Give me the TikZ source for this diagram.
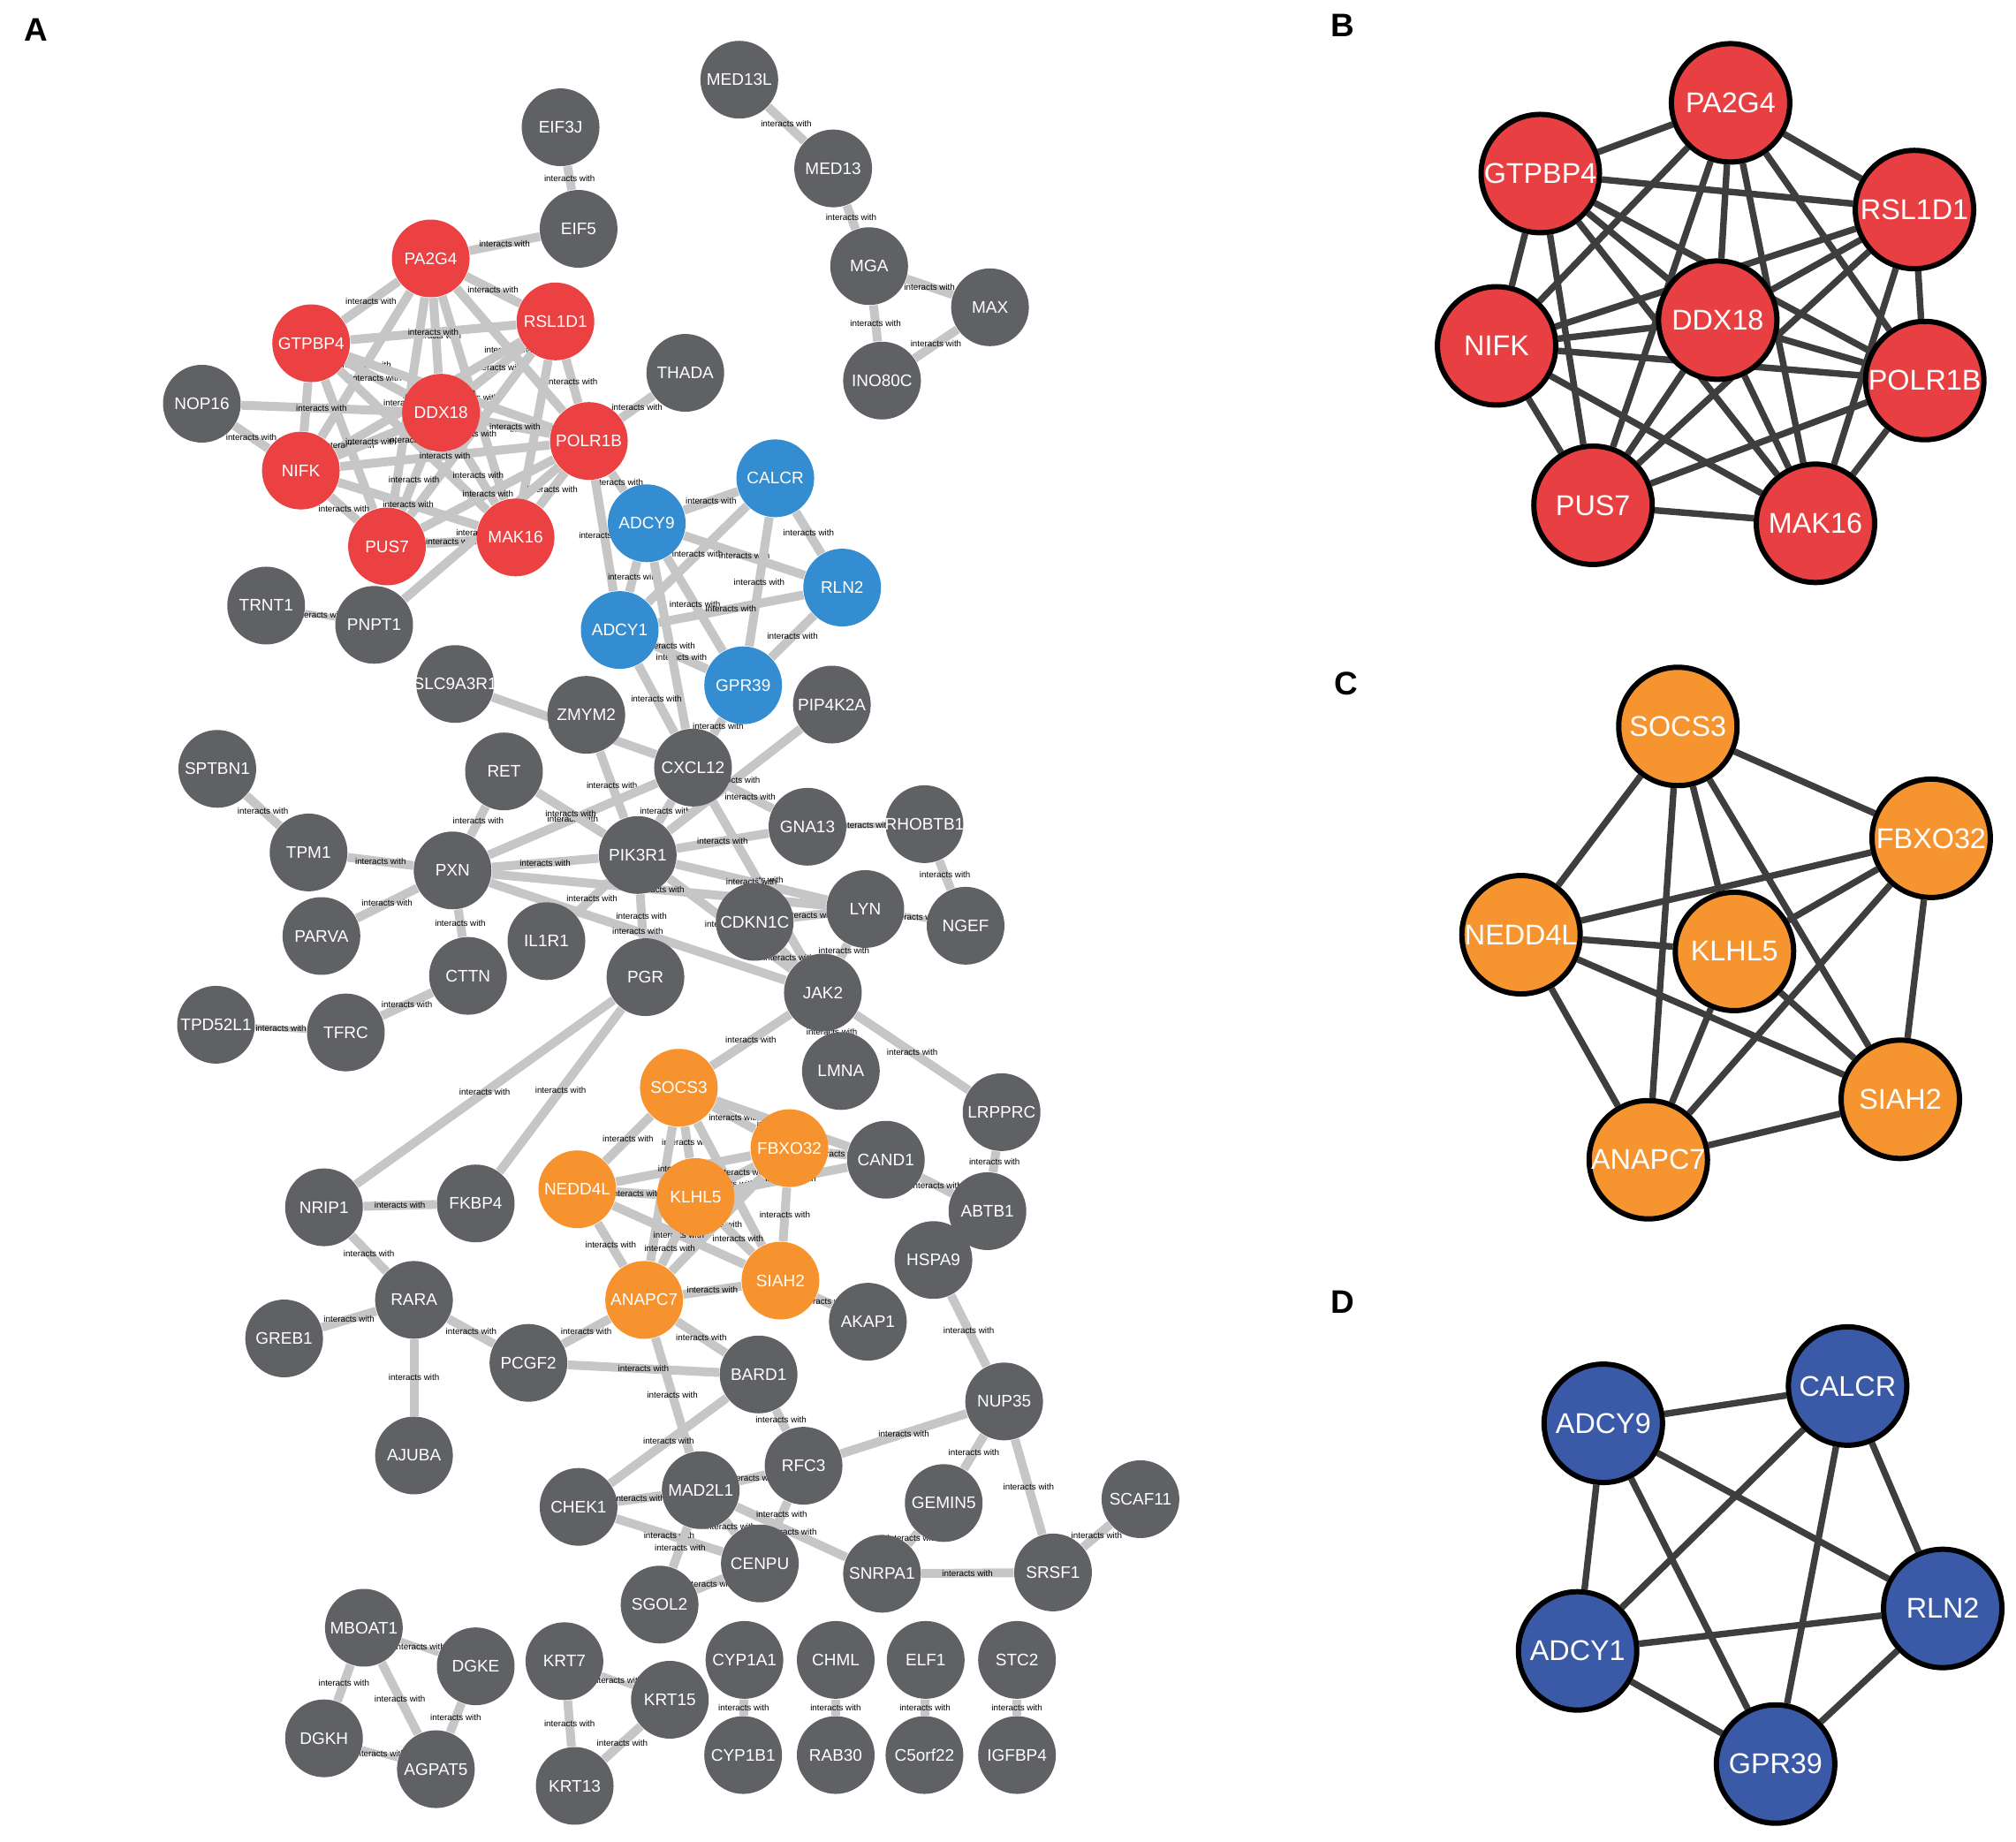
\documentclass[tikz,border=0pt]{standalone}
\usepackage{fontspec}
\setmainfont{Liberation Sans}
\definecolor{ngray}{RGB}{96,97,100}
\definecolor{nred}{RGB}{235,65,66}
\definecolor{nblue}{RGB}{52,141,208}
\definecolor{norange}{RGB}{247,147,46}
\definecolor{egray}{RGB}{198,198,198}
\definecolor{bred}{RGB}{232,64,66}
\definecolor{corange}{RGB}{246,148,48}
\definecolor{dblue}{RGB}{58,90,168}
\definecolor{dedge}{RGB}{62,62,62}
\pgfdeclarelayer{edges}
\pgfsetlayers{edges,main}
\tikzset{
  ntxt/.style={text=white, font=\fontsize{5.4}{6}\selectfont, inner sep=0pt},
  btxt/.style={text=white, font=\fontsize{9.2}{10}\selectfont, inner sep=0pt},
  base/.style={circle, minimum size=0.88cm, inner sep=0pt, label={[ntxt]center:#1}},
  gn/.style={base=#1, fill=ngray},
  rn/.style={base=#1, fill=nred},
  bn/.style={base=#1, fill=nblue},
  on/.style={base=#1, fill=norange},
  bigbase/.style={circle, draw=black, line width=1.7pt, minimum size=1.34cm, inner sep=0pt, label={[btxt]center:#1}},
  bB/.style={bigbase=#1, fill=bred},
  bC/.style={bigbase=#1, fill=corange},
  bD/.style={bigbase=#1, fill=dblue},
  aedge/.style={draw=egray, line width=2.85pt},
  thin/.style={line width=1.8pt},
  elab/.style={font=\fontsize{2.8}{3}\selectfont, inner sep=0pt, text=black},
  dedgestyle/.style={draw=dedge, line width=2.1pt},
  plab/.style={font=\bfseries\fontsize{10.5}{12}\selectfont}
}
\newcommand\myedge[3][]{\draw[aedge,#1] (#2) -- node[elab]{interacts with} (#3);}
\begin{document}
\begin{tikzpicture}[x=0.014554cm, y=-0.014554cm]
\useasboundingbox (0,0) rectangle (1568,1432);
% panel letters
\node[plab] (labA) at (28,23) {A};
\node[plab] (labB) at (1044,20) {B};
\node[plab] (labC) at (1047,532) {C};
\node[plab] (labD) at (1044,1013) {D};
% ---------------- panel A nodes ----------------
\node[gn=MED13L] (MED13L) at (575,62) {};
\node[gn=EIF3J] (EIF3J) at (436,99) {};
\node[gn=MED13] (MED13) at (648,131) {};
\node[gn=EIF5] (EIF5) at (450,178) {};
\node[gn=MGA] (MGA) at (676,207) {};
\node[gn=MAX] (MAX) at (770,239) {};
\node[gn=INO80C] (INO80C) at (686,296) {};
\node[rn=PA2G4] (PA2G4) at (335,201) {};
\node[rn=RSL1D1] (RSL1D1) at (432,250) {};
\node[rn=GTPBP4] (GTPBP4) at (242,267) {};
\node[gn=THADA] (THADA) at (533,290) {};
\node[gn=NOP16] (NOP16) at (157,314) {};
\node[rn=DDX18] (DDX18) at (343,321) {};
\node[rn=POLR1B] (POLR1B) at (458,343) {};
\node[rn=NIFK] (NIFK) at (234,366) {};
\node[bn=CALCR] (CALCR) at (603,372) {};
\node[bn=ADCY9] (ADCY9) at (503,407) {};
\node[rn=PUS7] (PUS7) at (301,425) {};
\node[rn=MAK16] (MAK16) at (401,418) {};
\node[bn=RLN2] (RLN2) at (655,457) {};
\node[gn=TRNT1] (TRNT1) at (207,471) {};
\node[gn=PNPT1] (PNPT1) at (291,486) {};
\node[bn=ADCY1] (ADCY1) at (482,490) {};
\node[bn=GPR39] (GPR39) at (578,533) {};
\node[gn=SLC9A3R1] (SLC9A3R1) at (354,532) {};
\node[gn=PIP4K2A] (PIP4K2A) at (647,548) {};
\node[gn=ZMYM2] (ZMYM2) at (456,556) {};
\node[gn=CXCL12] (CXCL12) at (539,597) {};
\node[gn=SPTBN1] (SPTBN1) at (169,598) {};
\node[gn=RET] (RET) at (392,600) {};
\node[gn=GNA13] (GNA13) at (628,643) {};
\node[gn=RHOBTB1] (RHOBTB1) at (719,641) {};
\node[gn=TPM1] (TPM1) at (240,663) {};
\node[gn=PXN] (PXN) at (352,677) {};
\node[gn=PIK3R1] (PIK3R1) at (496,665) {};
\node[gn=LYN] (LYN) at (673,707) {};
\node[gn=CDKN1C] (CDKN1C) at (587,717) {};
\node[gn=NGEF] (NGEF) at (751,720) {};
\node[gn=PARVA] (PARVA) at (250,728) {};
\node[gn=IL1R1] (IL1R1) at (425,732) {};
\node[gn=CTTN] (CTTN) at (364,759) {};
\node[gn=PGR] (PGR) at (502,760) {};
\node[gn=JAK2] (JAK2) at (640,772) {};
\node[gn=TPD52L1] (TPD52L1) at (168,797) {};
\node[gn=TFRC] (TFRC) at (269,803) {};
\node[gn=LMNA] (LMNA) at (654,833) {};
\node[on=SOCS3] (SOCS3) at (528,846) {};
\node[gn=LRPPRC] (LRPPRC) at (779,865) {};
\node[on=FBXO32] (FBXO32) at (614,893) {};
\node[gn=CAND1] (CAND1) at (689,902) {};
\node[on=NEDD4L] (NEDD4L) at (449,925) {};
\node[on=KLHL5] (KLHL5) at (541,931) {};
\node[gn=NRIP1] (NRIP1) at (252,939) {};
\node[gn=FKBP4] (FKBP4) at (370,936) {};
\node[gn=ABTB1] (ABTB1) at (768,942) {};
\node[gn=HSPA9] (HSPA9) at (726,980) {};
\node[on=SIAH2] (SIAH2) at (607,996) {};
\node[gn=RARA] (RARA) at (322,1011) {};
\node[on=ANAPC7] (ANAPC7) at (501,1011) {};
\node[gn=AKAP1] (AKAP1) at (675,1028) {};
\node[gn=GREB1] (GREB1) at (221,1041) {};
\node[gn=PCGF2] (PCGF2) at (411,1060) {};
\node[gn=BARD1] (BARD1) at (590,1069) {};
\node[gn=NUP35] (NUP35) at (781,1090) {};
\node[gn=AJUBA] (AJUBA) at (322,1132) {};
\node[gn=RFC3] (RFC3) at (625,1140) {};
\node[gn=MAD2L1] (MAD2L1) at (545,1159) {};
\node[gn=CHEK1] (CHEK1) at (450,1172) {};
\node[gn=GEMIN5] (GEMIN5) at (734,1169) {};
\node[gn=SCAF11] (SCAF11) at (887,1166) {};
\node[gn=CENPU] (CENPU) at (591,1216) {};
\node[gn=SNRPA1] (SNRPA1) at (686,1224) {};
\node[gn=SRSF1] (SRSF1) at (819,1223) {};
\node[gn=SGOL2] (SGOL2) at (513,1248) {};
\node[gn=MBOAT1] (MBOAT1) at (283,1266) {};
\node[gn=DGKE] (DGKE) at (370,1296) {};
\node[gn=KRT7] (KRT7) at (439,1292) {};
\node[gn=CYP1A1] (CYP1A1) at (579,1291) {};
\node[gn=CHML] (CHML) at (650,1291) {};
\node[gn=ELF1] (ELF1) at (720,1291) {};
\node[gn=STC2] (STC2) at (791,1291) {};
\node[gn=KRT15] (KRT15) at (521,1322) {};
\node[gn=DGKH] (DGKH) at (252,1352) {};
\node[gn=AGPAT5] (AGPAT5) at (339,1376) {};
\node[gn=CYP1B1] (CYP1B1) at (578,1365) {};
\node[gn=RAB30] (RAB30) at (650,1365) {};
\node[gn=C5orf22] (C5orf22) at (719,1365) {};
\node[gn=IGFBP4] (IGFBP4) at (791,1365) {};
\node[gn=KRT13] (KRT13) at (447,1389) {};
% ---------------- panels B, C, D nodes ----------------
\node[bB=PA2G4] (bPA2G4) at (1346,80) {};
\node[bB=GTPBP4] (bGTPBP4) at (1198,135) {};
\node[bB=RSL1D1] (bRSL1D1) at (1489,163) {};
\node[bB=DDX18] (bDDX18) at (1336,249) {};
\node[bB=NIFK] (bNIFK) at (1164,269) {};
\node[bB=POLR1B] (bPOLR1B) at (1497,296) {};
\node[bB=PUS7] (bPUS7) at (1239,393) {};
\node[bB=MAK16] (bMAK16) at (1412,407) {};
\node[bC=SOCS3] (cSOCS3) at (1305,565) {};
\node[bC=FBXO32] (cFBXO32) at (1502,652) {};
\node[bC=NEDD4L] (cNEDD4L) at (1183,727) {};
\node[bC=KLHL5] (cKLHL5) at (1349,740) {};
\node[bC=SIAH2] (cSIAH2) at (1478,855) {};
\node[bC=ANAPC7] (cANAPC7) at (1282,902) {};
\node[bD=ADCY9] (dADCY9) at (1247,1107) {};
\node[bD=CALCR] (dCALCR) at (1437,1078) {};
\node[bD=RLN2] (dRLN2) at (1511,1251) {};
\node[bD=ADCY1] (dADCY1) at (1227,1284) {};
\node[bD=GPR39] (dGPR39) at (1381,1372) {};
% ---------------- edges ----------------
\begin{pgfonlayer}{edges}
% panel A
\foreach \a/\b in {MED13L/MED13, MED13/MGA, MGA/MAX, MGA/INO80C, MAX/INO80C, EIF3J/EIF5, EIF5/PA2G4,
  PA2G4/RSL1D1, PA2G4/GTPBP4, PA2G4/DDX18, PA2G4/POLR1B, PA2G4/NIFK, PA2G4/PUS7, PA2G4/MAK16,
  RSL1D1/GTPBP4, RSL1D1/DDX18, RSL1D1/POLR1B, RSL1D1/NIFK, RSL1D1/PUS7, RSL1D1/MAK16,
  GTPBP4/DDX18, GTPBP4/POLR1B, GTPBP4/NIFK, GTPBP4/PUS7, GTPBP4/MAK16,
  DDX18/POLR1B, DDX18/NIFK, DDX18/PUS7, DDX18/MAK16,
  POLR1B/NIFK, POLR1B/PUS7, POLR1B/MAK16,
  NIFK/PUS7, NIFK/MAK16, PUS7/MAK16,
  NOP16/DDX18, NOP16/NIFK, POLR1B/THADA, PNPT1/POLR1B, POLR1B/ADCY9, POLR1B/ADCY1,
  ADCY9/CALCR, ADCY9/RLN2, ADCY9/ADCY1, ADCY9/GPR39, CALCR/RLN2, CALCR/ADCY1, CALCR/GPR39,
  RLN2/ADCY1, RLN2/GPR39, ADCY1/GPR39,
  ADCY9/CXCL12, ADCY1/CXCL12, GPR39/CXCL12,
  SLC9A3R1/CXCL12, ZMYM2/PIK3R1, CXCL12/PIK3R1, PIK3R1/PIP4K2A, CXCL12/GNA13, CXCL12/JAK2,
  PXN/CXCL12, RET/PIK3R1, RET/PXN, PXN/PIK3R1, PIK3R1/GNA13, PIK3R1/LYN, PIK3R1/JAK2,
  PIK3R1/PGR, PIK3R1/IL1R1, PXN/LYN, PXN/JAK2, RHOBTB1/NGEF, CDKN1C/LYN, LYN/JAK2,
  CDKN1C/JAK2, SPTBN1/TPM1, TPM1/PXN, PXN/PARVA, PXN/CTTN, CTTN/TFRC,
  JAK2/LMNA, JAK2/SOCS3, JAK2/LRPPRC, LRPPRC/ABTB1, CAND1/ABTB1, HSPA9/NUP35,
  PGR/NRIP1, PGR/FKBP4, NRIP1/FKBP4, NRIP1/RARA, RARA/GREB1, RARA/PCGF2, RARA/AJUBA,
  SOCS3/FBXO32, SOCS3/NEDD4L, SOCS3/KLHL5, SOCS3/SIAH2, SOCS3/ANAPC7,
  FBXO32/NEDD4L, FBXO32/KLHL5, FBXO32/SIAH2, FBXO32/ANAPC7,
  NEDD4L/KLHL5, NEDD4L/SIAH2, NEDD4L/ANAPC7, KLHL5/SIAH2, KLHL5/ANAPC7, SIAH2/ANAPC7,
  SOCS3/CAND1, FBXO32/CAND1, KLHL5/CAND1, SIAH2/AKAP1, ANAPC7/PCGF2, ANAPC7/BARD1, ANAPC7/MAD2L1,
  PCGF2/BARD1, BARD1/CHEK1, BARD1/RFC3, RFC3/NUP35, MAD2L1/RFC3, CHEK1/MAD2L1, CHEK1/CENPU,
  MAD2L1/SGOL2, MAD2L1/CENPU, MAD2L1/SNRPA1, RFC3/CENPU, SGOL2/CENPU, NUP35/GEMIN5,
  NUP35/SRSF1, SNRPA1/SRSF1, SRSF1/SCAF11, GEMIN5/SNRPA1,
  MBOAT1/DGKH, MBOAT1/AGPAT5, DGKE/AGPAT5, KRT7/KRT13, KRT15/KRT13,
  CYP1A1/CYP1B1, CHML/RAB30, ELF1/C5orf22, STC2/IGFBP4}
  {\myedge{\a}{\b}}
\foreach \a/\b in {TRNT1/PNPT1, TPD52L1/TFRC, GNA13/RHOBTB1, LYN/NGEF, MBOAT1/DGKE, DGKH/AGPAT5, KRT7/KRT15}
  {\myedge[thin]{\a}{\b}}
% panel B
\foreach \a/\b in {PA2G4/GTPBP4, PA2G4/RSL1D1, PA2G4/DDX18, PA2G4/NIFK, PA2G4/POLR1B, PA2G4/PUS7, PA2G4/MAK16,
  GTPBP4/RSL1D1, GTPBP4/DDX18, GTPBP4/NIFK, GTPBP4/POLR1B, GTPBP4/PUS7, GTPBP4/MAK16,
  RSL1D1/DDX18, RSL1D1/NIFK, RSL1D1/POLR1B, RSL1D1/PUS7, RSL1D1/MAK16,
  DDX18/NIFK, DDX18/POLR1B, DDX18/PUS7, DDX18/MAK16,
  NIFK/POLR1B, NIFK/PUS7, NIFK/MAK16, POLR1B/PUS7, POLR1B/MAK16, PUS7/MAK16}
  {\draw[dedgestyle] (b\a) -- (b\b);}
% panel C
\foreach \a/\b in {SOCS3/FBXO32, SOCS3/NEDD4L, SOCS3/KLHL5, SOCS3/SIAH2, SOCS3/ANAPC7,
  FBXO32/NEDD4L, FBXO32/KLHL5, FBXO32/SIAH2, FBXO32/ANAPC7,
  NEDD4L/KLHL5, NEDD4L/SIAH2, NEDD4L/ANAPC7, KLHL5/SIAH2, KLHL5/ANAPC7, SIAH2/ANAPC7}
  {\draw[dedgestyle] (c\a) -- (c\b);}
% panel D
\foreach \a/\b in {ADCY9/CALCR, ADCY9/RLN2, ADCY9/ADCY1, ADCY9/GPR39, CALCR/RLN2,
  CALCR/ADCY1, CALCR/GPR39, RLN2/ADCY1, RLN2/GPR39, ADCY1/GPR39}
  {\draw[dedgestyle] (d\a) -- (d\b);}
\end{pgfonlayer}
\end{tikzpicture}
\end{document}
